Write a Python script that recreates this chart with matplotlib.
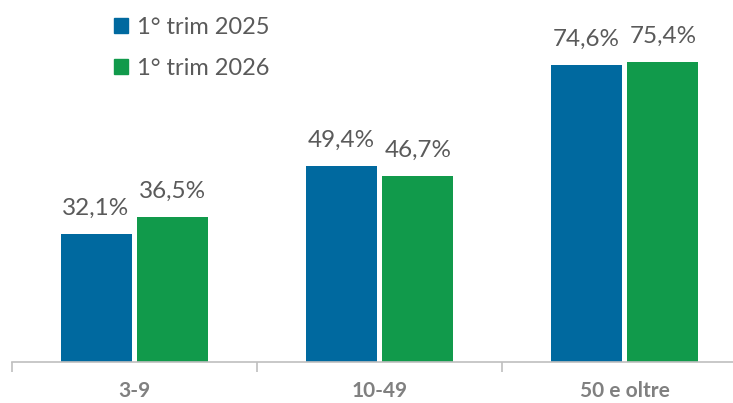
import matplotlib.pyplot as plt
from matplotlib.patches import Patch
import numpy as np

# data
categories = ['3-9', '10-49', '50 e oltre']
series_names = ['1° trim 2025', '1° trim 2026']
vals_2025 = [32.1, 49.4, 74.6]
vals_2026 = [36.5, 46.7, 75.4]

blue = '#00699f'
green = '#119a4b'
label_grey = '#5a5a5a'
tick_grey = '#808080'

plt.rcParams['font.family'] = ['Lato', 'DejaVu Sans']

fig = plt.figure(figsize=(7.33, 4.03), dpi=100)
ax = fig.add_axes([12 / 733, 41 / 403, 735 / 733, 320 / 403])

x = np.arange(len(categories))
w = 0.29
gap = 0.012
b1 = ax.bar(x - w / 2 - gap, vals_2025, w, color=blue)
b2 = ax.bar(x + w / 2 + gap, vals_2026, w, color=green)

def fmt(v):
    return ('%.1f%%' % v).replace('.', ',')

for bars, vals in [(b1, vals_2025), (b2, vals_2026)]:
    for r, v in zip(bars, vals):
        ax.annotate(fmt(v), (r.get_x() + r.get_width() / 2, r.get_height()),
                    xytext=(0, 11), textcoords='offset points',
                    ha='center', va='bottom', fontsize=17.5, color=label_grey)

ax.set_xlim(-0.5, 2.5)
ax.set_ylim(0, 80.5)
ax.set_yticks([])
for s in ['top', 'right', 'left']:
    ax.spines[s].set_visible(False)
ax.spines['bottom'].set_color('#bfbfbf')
ax.spines['bottom'].set_linewidth(1.2)

ax.set_xticks([-0.5, 0.5, 1.5, 2.5])
ax.set_xticklabels([])
ax.tick_params(axis='x', which='major', length=7, color='#bfbfbf', width=1.2)
ax.set_xticks(x, minor=True)
ax.set_xticklabels(categories, minor=True, fontsize=15, fontweight='bold', color=tick_grey)
ax.tick_params(axis='x', which='minor', length=0, pad=14)

handles = [Patch(color=blue), Patch(color=green)]
fig.legend(handles, series_names, loc='upper left', bbox_to_anchor=(93 / 733, 1.01),
           frameon=False, fontsize=17, labelcolor=label_grey,
           handlelength=0.6, handleheight=0.6, handletextpad=0.35, labelspacing=0.85)

fig.savefig('out.png', dpi=100)
